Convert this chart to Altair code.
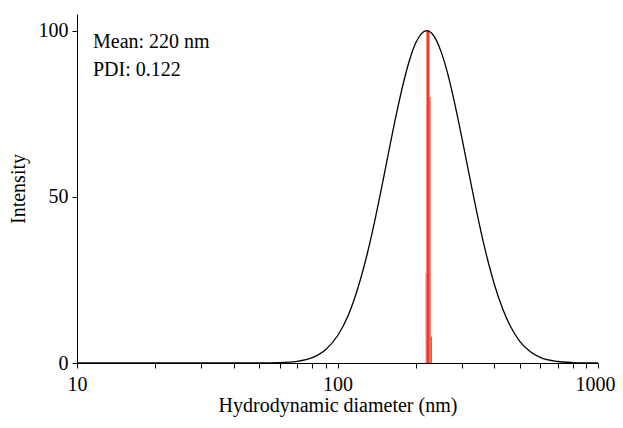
import altair as alt
import pandas as pd

# Size distribution curve
diameter_nm = [10, 40, 50, 60, 70, 80, 90, 100, 110, 120, 130, 140, 150, 160,
               170, 180, 190, 200, 210, 220, 230, 240, 250, 265, 280, 300, 320,
               340, 360, 380, 400, 430, 460, 500, 550, 600, 700, 800, 900, 1000]
intensity = [0, 0, 0.01, 0.11, 0.5, 1.6, 4.0, 8.2, 14.4, 22.8, 32.8, 43.9,
             55.4, 66.5, 76.5, 85.0, 91.7, 96.4, 99.1, 100, 99.2, 97.0, 93.6,
             87.0, 79.1, 67.9, 56.8, 46.6, 37.6, 30.0, 23.7, 16.4, 11.2, 6.6,
             3.4, 1.7, 0.45, 0.12, 0.03, 0.01]

# Red histogram bars around the mean
bar_start = [218.1, 219.5, 225.6, 227.7]
bar_end = [219.5, 225.6, 227.7, 230.3]
bar_height = [27, 100, 80, 8]

x_tick_values = [10, 20, 30, 40, 50, 60, 70, 80, 90,
                 100, 200, 300, 400, 500, 600, 700, 800, 900, 1000]
y_tick_values = [0, 50, 100]
annotation_lines = ["Mean: 220 nm", "PDI: 0.122"]

FONT = "Liberation Serif"
FS = 20

curve_df = pd.DataFrame({"d": diameter_nm, "i": intensity})
bars_df = pd.DataFrame({"x0": bar_start, "x1": bar_end, "h": bar_height,
                        "b": [0] * len(bar_height)})
text_df = pd.DataFrame({"t": annotation_lines, "row": [0, 1]})

x_scale = alt.Scale(type="log", domain=[10, 1000], nice=False)
y_scale = alt.Scale(domain=[0, 105], nice=False, zero=True)

x_axis = alt.Axis(
    title="Hydrodynamic diameter (nm)",
    values=x_tick_values,
    labelExpr="(datum.value == 10 || datum.value == 100 || datum.value == 1000) ? format(datum.value, 'd') : ''",
    labelOffset={"condition": {"test": "datum.value == 1000", "value": -3}, "value": 0},
    grid=False, tickSize=5, labelPadding=6, titlePadding=1,
    domainColor="black", tickColor="black", labelColor="black", titleColor="black",
    labelFont=FONT, labelFontSize=FS, titleFont=FONT, titleFontSize=FS,
    titleFontWeight="normal", labelFlush=False,
)
y_axis = alt.Axis(
    title="Intensity", values=y_tick_values, grid=False, tickSize=5,
    labelPadding=4, titlePadding=10,
    domainColor="black", tickColor="black", labelColor="black", titleColor="black",
    labelFont=FONT, labelFontSize=FS, titleFont=FONT, titleFontSize=FS,
    titleFontWeight="normal",
)

bars = alt.Chart(bars_df).mark_rect(color="#ef3b2c").encode(
    x=alt.X("x0:Q", scale=x_scale, axis=x_axis),
    x2="x1:Q",
    y=alt.Y("b:Q", scale=y_scale, axis=y_axis),
    y2="h:Q",
)

curve = alt.Chart(curve_df).mark_line(color="black", strokeWidth=1.3,
                                       interpolate="monotone").encode(
    x=alt.X("d:Q", scale=x_scale),
    y=alt.Y("i:Q", scale=y_scale),
)

text = alt.Chart(text_df).mark_text(
    align="left", baseline="alphabetic", font=FONT, fontSize=FS, color="black"
).encode(
    x=alt.value(16),
    y=alt.value(34),
    text="t:N",
).transform_filter("datum.row == 0")

text2 = alt.Chart(text_df).mark_text(
    align="left", baseline="alphabetic", font=FONT, fontSize=FS, color="black"
).encode(
    x=alt.value(16),
    y=alt.value(62),
    text="t:N",
).transform_filter("datum.row == 1")

chart = alt.layer(bars, curve, text, text2).properties(
    width=521, height=349,
    background="white",
    autosize=alt.AutoSizeParams(type="none"),
    padding={"left": 69, "top": 6, "right": 17, "bottom": 57},
).configure_view(stroke=None)

chart.save("out.html", embed_options={"renderer": "svg", "actions": False})
